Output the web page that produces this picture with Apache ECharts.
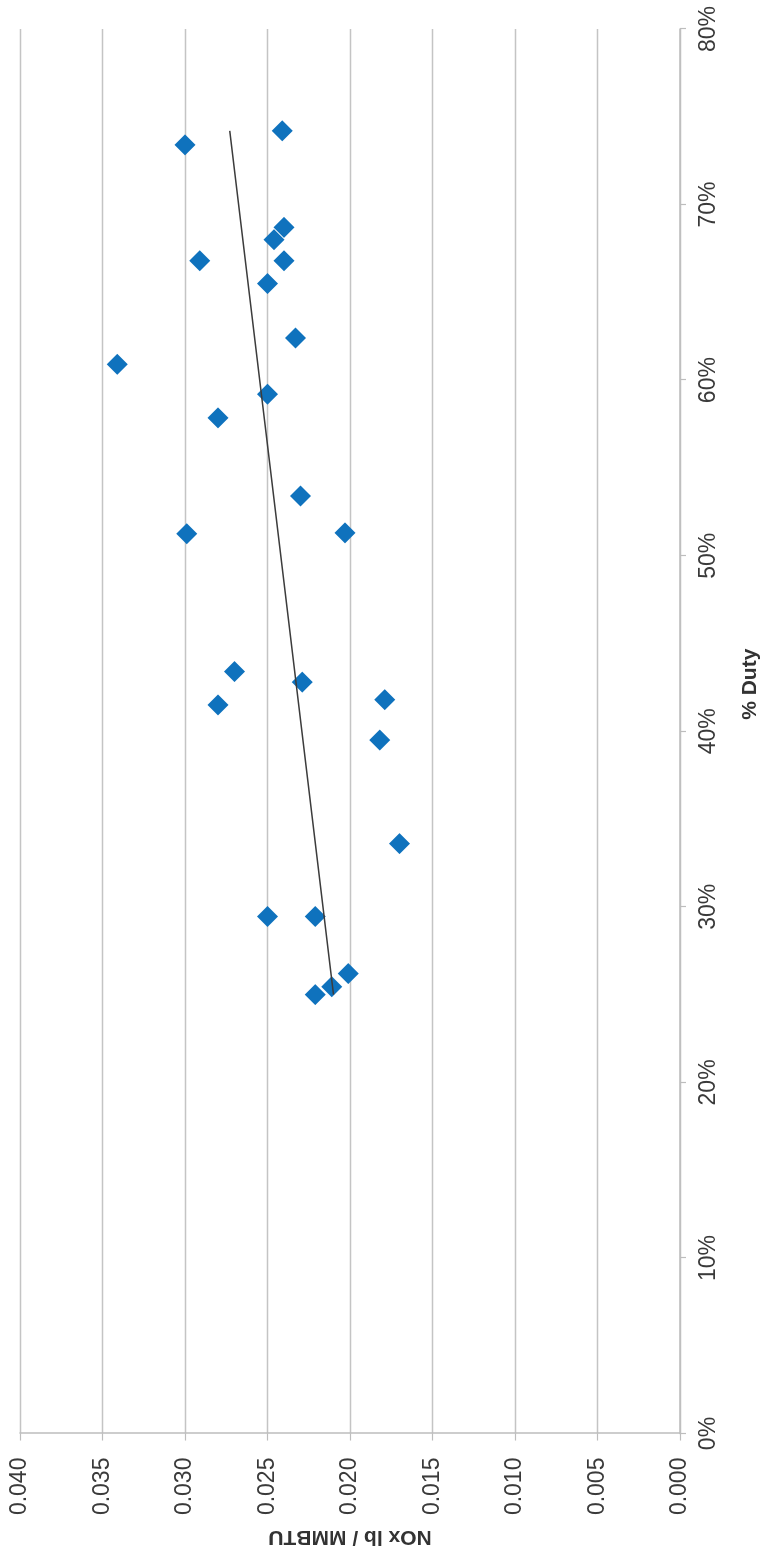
<!DOCTYPE html>
<html>
<head>
<meta charset="utf-8">
<script src="https://cdn.jsdelivr.net/npm/echarts@6/dist/echarts.min.js"></script>
<style>
  html, body { margin: 0; padding: 0; background: #ffffff; overflow: hidden; }
  body { width: 766px; height: 1555px; position: relative; }
  #chart {
    position: absolute; left: 0; top: 0;
    width: 1555px; height: 766px;
    transform-origin: 0 0;
    transform: translate(0px, 1555px) rotate(-90deg);
  }
</style>
</head>
<body>
<div id="chart"></div>
<script>
// % Duty (fraction) for each measurement
var dutyValues = [0.734, 0.742, 0.687, 0.680, 0.668, 0.668, 0.655, 0.624, 0.609, 0.592,
                  0.5785, 0.534, 0.5125, 0.513, 0.434, 0.428, 0.415, 0.418, 0.395, 0.336,
                  0.2945, 0.2945, 0.262, 0.2545, 0.250];
// NOx lb / MMBTU for each measurement
var noxValues  = [0.0300, 0.0241, 0.0240, 0.0246, 0.0291, 0.0240, 0.0250, 0.0233, 0.0341, 0.0250,
                  0.0280, 0.0230, 0.0299, 0.0203, 0.0270, 0.0229, 0.0280, 0.0179, 0.0182, 0.0170,
                  0.0250, 0.0221, 0.0201, 0.0211, 0.0221];
var xTicks = [0, 0.1, 0.2, 0.3, 0.4, 0.5, 0.6, 0.7, 0.8];
var yTicks = [0, 0.005, 0.010, 0.015, 0.020, 0.025, 0.030, 0.035, 0.040];
var xTitle = '% Duty';
var yTitle = 'NOx lb / MMBTU';

var points = dutyValues.map(function (d, i) { return [d, noxValues[i]]; });

// linear least-squares trendline over the data range
var n = dutyValues.length, sx = 0, sy = 0;
for (var i = 0; i < n; i++) { sx += dutyValues[i]; sy += noxValues[i]; }
var mx = sx / n, my = sy / n, sxy = 0, sxx = 0;
for (var j = 0; j < n; j++) {
  sxy += (dutyValues[j] - mx) * (noxValues[j] - my);
  sxx += (dutyValues[j] - mx) * (dutyValues[j] - mx);
}
var slope = sxy / sxx, icpt = my - slope * mx;
var xmin = Math.min.apply(null, dutyValues), xmax = Math.max.apply(null, dutyValues);
var trend = [[xmin, icpt + slope * xmin], [xmax, icpt + slope * xmax]];

var FONT = "'Liberation Sans', Arial, sans-serif";
var chart = echarts.init(document.getElementById('chart'), null, { renderer: 'canvas' });
chart.setOption({
  animation: false,
  backgroundColor: '#ffffff',
  grid: { left: 120, right: 29, top: 20, bottom: 82, containLabel: false },
  xAxis: {
    type: 'value',
    min: xTicks[0], max: xTicks[xTicks.length - 1], interval: 0.1,
    name: xTitle, nameLocation: 'middle', nameGap: 60,
    nameTextStyle: { fontFamily: FONT, fontSize: 21, fontWeight: 'bold', color: '#333333', padding: [0, 0, 0, 94] },
    axisLine: { show: true, onZero: true, lineStyle: { color: '#bdbdbd', width: 1.5 } },
    axisTick: { show: true, length: 6, lineStyle: { color: '#bdbdbd', width: 1.2 } },
    axisLabel: {
      fontFamily: FONT, fontSize: 23, color: '#3a3a3a', margin: 17,
      formatter: function (v) { return Math.round(v * 100) + '%'; }
    },
    splitLine: { show: false }
  },
  yAxis: {
    type: 'value',
    min: yTicks[0], max: yTicks[yTicks.length - 1], interval: 0.005,
    name: yTitle, nameLocation: 'middle', nameGap: 84,
    nameTextStyle: { fontFamily: FONT, fontSize: 21, fontWeight: 'bold', color: '#333333' },
    axisLine: { show: true, lineStyle: { color: '#bdbdbd', width: 1.5 } },
    axisTick: { show: true, length: 7, lineStyle: { color: '#bdbdbd', width: 1.2 } },
    axisLabel: {
      fontFamily: FONT, fontSize: 23, color: '#3a3a3a', margin: 24,
      formatter: function (v) { return v.toFixed(3); }
    },
    splitLine: { show: true, lineStyle: { color: '#c4c4c4', width: 1.3 } }
  },
  series: [
    {
      type: 'scatter',
      data: points,
      symbol: 'diamond',
      symbolSize: 21,
      itemStyle: { color: '#0f72bd', opacity: 1 },
      z: 2
    },
    {
      type: 'line',
      data: trend,
      symbol: 'none',
      lineStyle: { color: '#3c3c3c', width: 1.5 },
      z: 3
    }
  ]
});
</script>
</body>
</html>
